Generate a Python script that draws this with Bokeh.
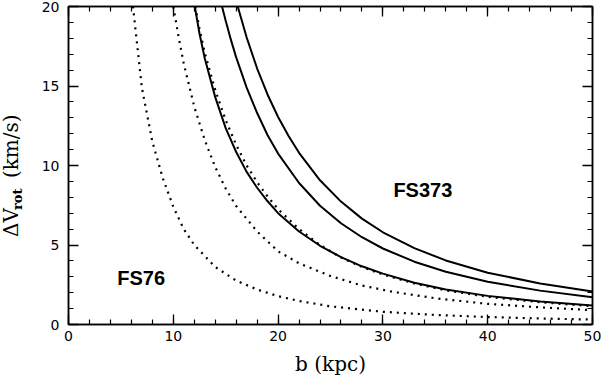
from bokeh.plotting import figure
from bokeh.layouts import row
from bokeh.models import Range1d, LinearAxis, SingleIntervalTicker, Label
from bokeh.core.properties import value
from bokeh.embed import file_html
from bokeh.resources import INLINE
import math

# ---- data (b in kpc, dV_rot in km/s) ----
# dotted curves
b_d1 = [6.15, 7, 8, 9, 10, 11, 12, 14, 16, 18, 20, 22, 25, 30, 35, 40, 45, 50]
v_d1 = [20.0, 14.9, 11.5, 9.2, 7.4, 6.0, 5.0, 3.62, 2.76, 2.2, 1.78, 1.48, 1.14, 0.8, 0.6, 0.47, 0.38, 0.31]

b_d2 = [10.0, 10.5, 11, 12, 13, 14, 15, 16, 18, 20, 22, 25, 28, 31, 35, 40, 45, 50]
v_d2 = [20.0, 18.1, 16.4, 13.7, 11.6, 9.9, 8.55, 7.45, 5.85, 4.6, 3.85, 3.05, 2.45, 2.05, 1.65, 1.3, 1.08, 0.9]

b_d3 = [12.1, 12.5, 13, 14, 15, 16, 17, 18, 19, 20, 22, 24, 26, 28, 30, 33, 36, 40, 45, 50]
v_d3 = [20.0, 18.6, 17.1, 14.75, 12.85, 11.3, 10.0, 8.95, 8.05, 7.25, 6.0, 5.0, 4.22, 3.62, 3.14, 2.58, 2.15, 1.74, 1.4, 1.15]

# solid curves
b_s1 = [12.05, 12.5, 13, 14, 15, 16, 17, 18, 19, 20, 22, 24, 26, 28, 30, 33, 36, 40, 45, 50]
v_s1 = [20.0, 18.3, 16.75, 14.3, 12.35, 10.85, 9.6, 8.6, 7.75, 7.0, 5.85, 4.95, 4.24, 3.66, 3.2, 2.63, 2.2, 1.8, 1.45, 1.2]

b_s2 = [14.65, 15, 15.5, 16, 17, 18, 19, 20, 22, 24, 26, 28, 30, 33, 36, 40, 45, 50]
v_s2 = [20.0, 19.1, 17.9, 16.8, 14.9, 13.3, 11.9, 10.75, 8.9, 7.47, 6.37, 5.49, 4.78, 3.95, 3.32, 2.69, 2.13, 1.71]

b_s3 = [16.15, 16.5, 17, 18, 19, 20, 21, 22, 24, 26, 28, 30, 33, 36, 40, 45, 50]
v_s3 = [20.0, 19.2, 18.05, 16.1, 14.45, 13.05, 11.85, 10.8, 9.07, 7.73, 6.66, 5.8, 4.8, 4.03, 3.26, 2.58, 2.08]

dotted = [(b_d1, v_d1), (b_d2, v_d2), (b_d3, v_d3)]
solid = [(b_s1, v_s1), (b_s2, v_s2), (b_s3, v_s3)]

x_ticks_interval = 10
y_ticks_interval = 5

# ---------------- main plot ----------------
p = figure(width=579, height=378,
           x_range=Range1d(0, 50), y_range=Range1d(0, 20),
           output_backend="svg", toolbar_location=None,
           min_border_left=44, min_border_right=11,
           min_border_top=6, min_border_bottom=53)
p.grid.visible = False
p.outline_line_color = "black"
p.outline_line_width = 1.5
p.background_fill_color = "white"
p.border_fill_color = "white"

top = LinearAxis()
right = LinearAxis()
p.add_layout(top, "above")
p.add_layout(right, "right")

for ax in p.xaxis:
    ax.ticker = SingleIntervalTicker(interval=x_ticks_interval, num_minor_ticks=5)
for ax in p.yaxis:
    ax.ticker = SingleIntervalTicker(interval=y_ticks_interval, num_minor_ticks=5)

for ax in p.axis:
    ax.major_tick_in = 10
    ax.major_tick_out = 0
    ax.minor_tick_in = 5
    ax.minor_tick_out = 0
    ax.axis_line_color = "black"
    ax.axis_line_width = 1.5
    ax.major_tick_line_color = "black"
    ax.major_tick_line_width = 1.3
    ax.minor_tick_line_color = "black"
    ax.minor_tick_line_width = 1.2
    ax.major_label_text_font = "DejaVu Sans"
    ax.major_label_text_font_size = "14px"
    ax.major_label_text_color = "black"

for ax in (top, right):
    ax.major_label_text_color = None
    ax.major_label_text_font_size = "1px"
    ax.major_label_standoff = 0

bottom = p.below[0]
left = p.left[0]
bottom.major_label_standoff = 6
left.major_label_standoff = 9
bottom.axis_label = "b (kpc)"
bottom.axis_label_text_font = "DejaVu Serif"
bottom.axis_label_text_font_size = "20px"
bottom.axis_label_text_font_style = "normal"
bottom.axis_label_text_color = "black"
bottom.axis_label_standoff = 8

for b, v in dotted:
    p.line(b, v, line_color="black", line_width=2.2, line_dash="2 5")
for b, v in solid:
    p.line(b, v, line_color="black", line_width=2)

# curve-group labels
p.add_layout(Label(x=4.65, y=2.9, text="FS76", text_font="Liberation Sans",
                   text_font_style="bold", text_font_size="20px",
                   text_baseline="alphabetic", text_color="black"))
p.add_layout(Label(x=31.0, y=8.45, text="FS373", text_font="Liberation Sans",
                   text_font_style="bold", text_font_size="20px",
                   text_baseline="alphabetic", text_color="black"))

# ---------------- y-axis title strip (subscripted label) ----------------
t = figure(width=24, height=378, x_range=Range1d(0, 24), y_range=Range1d(0, 378),
           output_backend="svg", toolbar_location=None,
           x_axis_location=None, y_axis_location=None,
           min_border_left=0, min_border_right=0, min_border_top=0, min_border_bottom=0)
t.grid.visible = False
t.outline_line_color = None
t.background_fill_color = "white"
t.border_fill_color = "white"

ang = math.pi / 2
t.text(x=[10], y=[104], text=["ΔV"], angle=ang, text_align="left", text_baseline="middle",
       text_font=value("DejaVu Serif"), text_font_size="20px", text_color="black")
t.text(x=[16.5], y=[136], text=["rot"], angle=ang, text_align="left", text_baseline="middle",
       text_font=value("DejaVu Serif"), text_font_style="bold", text_font_size="13px",
       text_color="black")
t.text(x=[10], y=[174], text=["(km/s)"], angle=ang, text_align="left", text_baseline="middle",
       text_font=value("DejaVu Serif"), text_font_size="20px", text_color="black")

layout = row(t, p, spacing=0)
open("out.html", "w").write(file_html(layout, INLINE))
